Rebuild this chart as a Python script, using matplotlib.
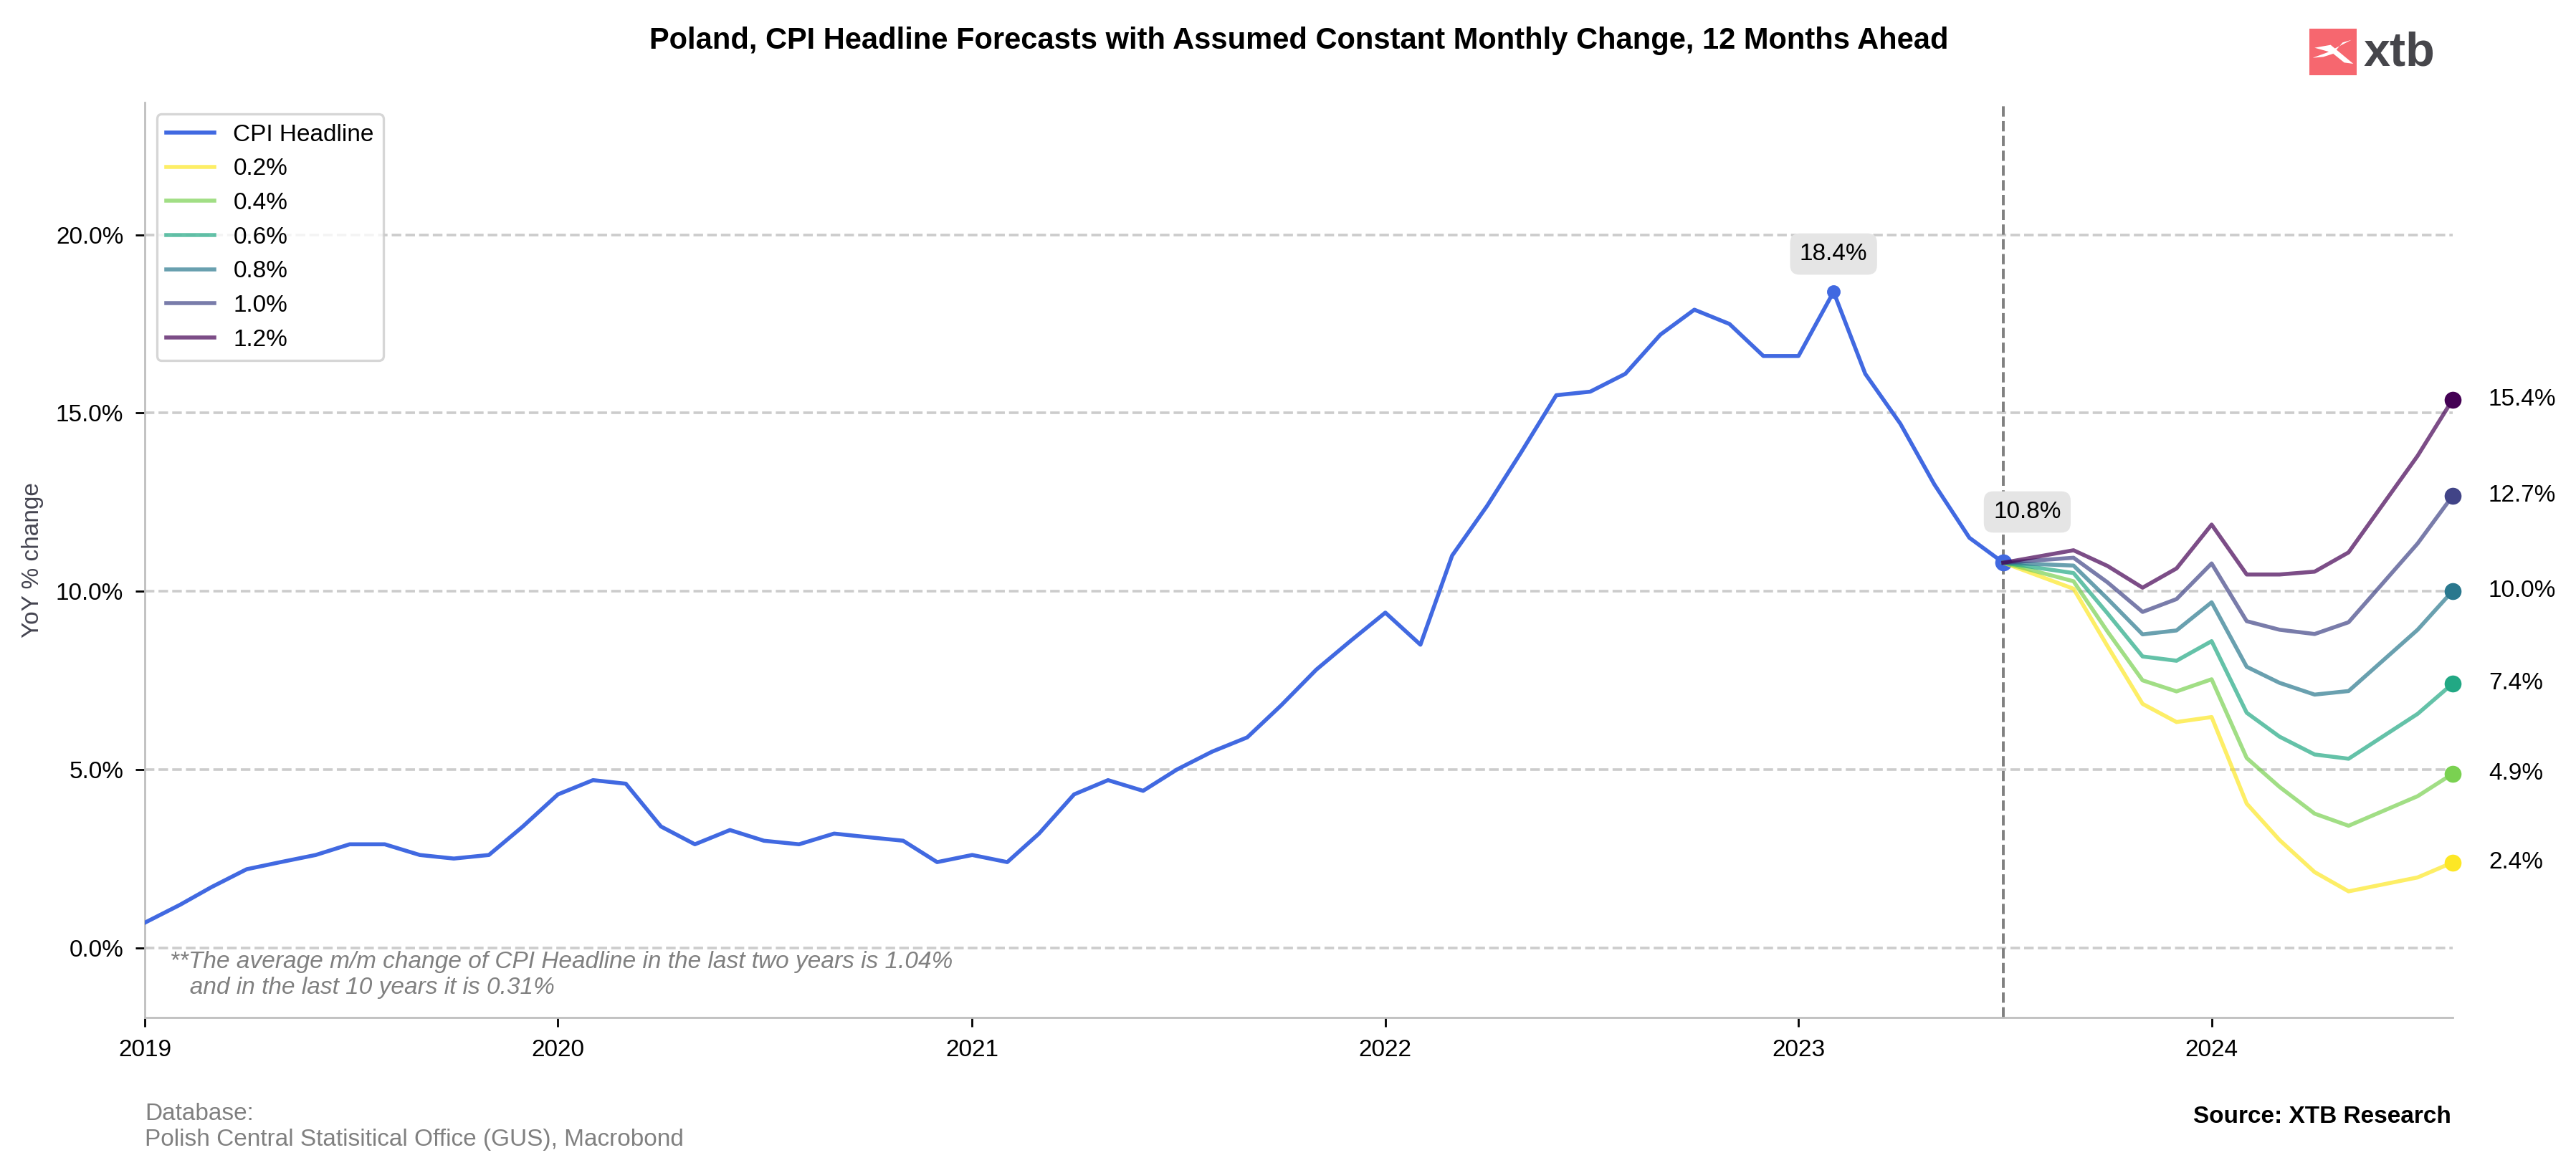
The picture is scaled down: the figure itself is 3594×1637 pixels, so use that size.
import numpy as np
import pandas as pd
import matplotlib
matplotlib.use('Agg')
import matplotlib.pyplot as plt
import matplotlib.dates as mdates
from matplotlib.patches import Rectangle, Polygon
from matplotlib.ticker import FuncFormatter

plt.rcParams['font.family'] = ['Liberation Sans', 'DejaVu Sans']

# ---------------- data ----------------
cpi_start = '2019-01-01'
cpi_values = [
    0.7, 1.2, 1.7, 2.2, 2.4, 2.6, 2.9, 2.9, 2.6, 2.5, 2.6, 3.4,      # 2019
    4.3, 4.7, 4.6, 3.4, 2.9, 3.3, 3.0, 2.9, 3.2, 3.1, 3.0, 2.4,      # 2020
    2.6, 2.4, 3.2, 4.3, 4.7, 4.4, 5.0, 5.5, 5.9, 6.8, 7.8, 8.6,      # 2021
    9.4, 8.5, 11.0, 12.4, 13.9, 15.5, 15.6, 16.1, 17.2, 17.9, 17.5, 16.6,  # 2022
    16.6, 18.4, 16.1, 14.7, 13.0, 11.5, 10.8,                         # 2023
]
forecast_dates = ['2023-09-01', '2023-10-01', '2023-11-01', '2023-12-01',
                  '2024-01-01', '2024-02-01', '2024-03-01', '2024-04-01',
                  '2024-05-01', '2024-07-01', '2024-08-01']
forecast_labels = ['0.2%', '0.4%', '0.6%', '0.8%', '1.0%', '1.2%']
fc_02 = [10.07, 8.46, 6.84, 6.33, 6.47, 4.04, 3.02, 2.12, 1.58, 1.97, 2.39]
fc_04 = [10.28, 8.87, 7.50, 7.19, 7.53, 5.32, 4.51, 3.76, 3.42, 4.25, 4.88]
fc_06 = [10.51, 9.38, 8.17, 8.05, 8.60, 6.59, 5.92, 5.42, 5.30, 6.56, 7.41]
fc_08 = [10.72, 9.79, 8.79, 8.90, 9.69, 7.88, 7.43, 7.10, 7.20, 8.92, 10.01]
fc_10 = [10.94, 10.25, 9.42, 9.78, 10.78, 9.16, 8.92, 8.80, 9.13, 11.34, 12.68]
fc_12 = [11.15, 10.71, 10.10, 10.64, 11.87, 10.47, 10.47, 10.55, 11.09, 13.80, 15.38]
forecast_series = [fc_02, fc_04, fc_06, fc_08, fc_10, fc_12]
y_ticks = [0, 5, 10, 15, 20]

# ---------------- figure ----------------
W, H, DPI = 3594, 1637, 200
FS = 12
LW = 2.0
fig = plt.figure(figsize=(W / DPI, H / DPI), dpi=DPI)
ax = fig.add_axes([202 / W, 1 - 1420 / H, 3220 / W, (1420 - 142.7) / H])

cpi_dates = pd.date_range(cpi_start, periods=len(cpi_values), freq='MS')
f_dates = pd.to_datetime(forecast_dates)

ax.plot(cpi_dates, cpi_values, color='royalblue', lw=LW, label='CPI Headline', zorder=3)

colors = plt.cm.viridis(np.linspace(0, 1, len(forecast_series)))[::-1]
for lbl, vals, c in zip(forecast_labels, forecast_series, colors):
    xs = [cpi_dates[-1]] + list(f_dates)
    ys = [cpi_values[-1]] + list(vals)
    ax.plot(xs, ys, color=c, alpha=0.7, lw=LW, label=lbl, zorder=4)
    ax.plot([xs[-1]], [ys[-1]], 'o', color=c, ms=7.5, zorder=5, clip_on=False)
    ax.annotate(f'{ys[-1]:.1f}%', (xs[-1], ys[-1]), xytext=(18, 0),
                textcoords='offset points', ha='left', va='center', fontsize=FS,
                annotation_clip=False)

# peak annotation
i_max = int(np.argmax(cpi_values))
ax.plot([cpi_dates[i_max]], [cpi_values[i_max]], 'o', color='royalblue', ms=5.8, zorder=5)
ax.annotate(f'{cpi_values[i_max]:.1f}%', (cpi_dates[i_max], cpi_values[i_max]),
            xytext=(0, 19), textcoords='offset points', ha='center', va='center',
            fontsize=FS, bbox=dict(boxstyle='round,pad=0.4', fc='#e5e5e5', ec='none'))

# last actual annotation
ax.plot([cpi_dates[-1]], [cpi_values[-1]], 'o', color='royalblue', ms=7.5, zorder=3.5)
ax.annotate(f'{cpi_values[-1]:.1f}%', (cpi_dates[-1], cpi_values[-1]),
            xytext=(12, 25.5), textcoords='offset points', ha='center', va='center',
            fontsize=FS, bbox=dict(boxstyle='round,pad=0.4', fc='#e5e5e5', ec='none'))

ax.axvline(cpi_dates[-1], color='gray', ls='--', lw=1.4, zorder=2)

# axes styling
ax.set_xlim(cpi_dates[0], f_dates[-1])
ax.set_ylim(-1.96, 23.72)
ax.set_yticks(y_ticks)
ax.yaxis.set_major_formatter(FuncFormatter(lambda v, p: f'{v:.1f}%'))
ax.xaxis.set_major_locator(mdates.YearLocator())
ax.xaxis.set_major_formatter(mdates.DateFormatter('%Y'))
ax.tick_params(axis='both', length=4.7, width=1, color='black', labelsize=FS, pad=6)
ax.yaxis.grid(True, ls='--', color='#cccccc', lw=1.3)
ax.xaxis.grid(False)
ax.set_axisbelow(True)
for s in ['top', 'right']:
    ax.spines[s].set_visible(False)
for s in ['left', 'bottom']:
    ax.spines[s].set_color('#bfbfbf')
    ax.spines[s].set_linewidth(1.0)

ax.set_ylabel('YoY % change', fontsize=FS, color='#444450', labelpad=6)
ax.set_title('Poland, CPI Headline Forecasts with Assumed Constant Monthly Change, 12 Months Ahead',
             fontsize=15, fontweight='bold', pad=27)

leg = ax.legend(loc='upper left', fontsize=FS, handlelength=2.0, labelspacing=0.5,
                edgecolor='#cccccc', fancybox=True)
leg.get_frame().set_linewidth(1.2)

ax.text(0.0109, 0.0728,
        '**The average m/m change of CPI Headline in the last two years is 1.04%\n'
        '   and in the last 10 years it is 0.31%',
        transform=ax.transAxes, fontsize=FS, style='italic', color='gray',
        ha='left', va='top')

fig.text(202 / W, 1 - 1539 / H,
         'Database:\nPolish Central Statisitical Office (GUS), Macrobond',
         fontsize=FS, color='gray', ha='left', va='top')
fig.text(3420 / W, 1 - 1567 / H, 'Source: XTB Research', fontsize=FS,
         fontweight='bold', ha='right', va='baseline')

# logo
def fp(zx, zy):
    px = 3200 + zx / 3.0
    py = 20 + zy / 3.0
    return (px / W, 1 - py / H)

fig.patches.append(Rectangle(fp(65, 255), 66 / W, 65 / H, transform=fig.transFigure,
                             facecolor='#f6676f', edgecolor='none'))
arm1 = [fp(88, 140), fp(155, 128), fp(250, 207), fp(212, 202), fp(160, 160)]
arm2 = [fp(80, 182), fp(140, 160), fp(242, 107), fp(205, 118), fp(165, 165), fp(125, 178)]
for arm in (arm1, arm2):
    fig.patches.append(Polygon(arm, closed=True, transform=fig.transFigure,
                               facecolor='white', edgecolor='none'))
fig.text(3298 / W, 1 - 91 / H, 'xtb', fontsize=24, fontweight='bold',
         color='#46464b', ha='left', va='baseline')

fig.savefig('out.png', dpi=DPI)
